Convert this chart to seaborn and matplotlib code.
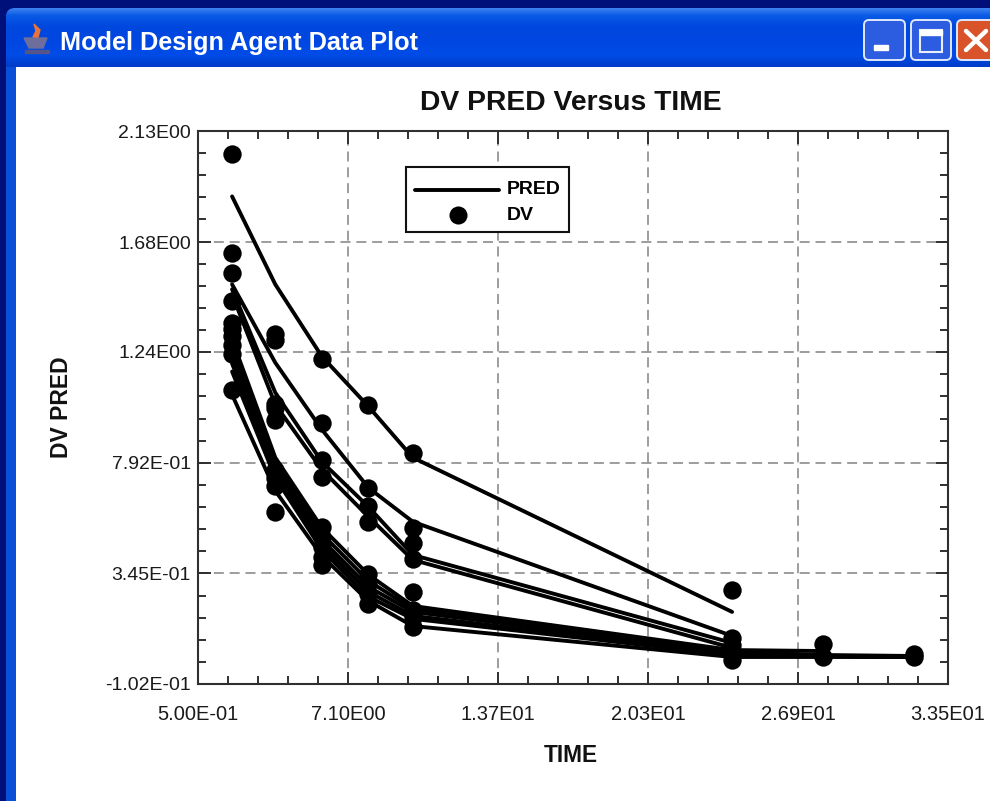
import numpy as np
import pandas as pd
import matplotlib
matplotlib.use('Agg')
import matplotlib.pyplot as plt
import seaborn as sns
from matplotlib.lines import Line2D
from matplotlib.patches import FancyBboxPatch, Polygon, Rectangle
from matplotlib.ticker import FixedLocator, FixedFormatter

# PRED curves, one list per subject (time, value)
time_short = [2, 3.9, 5.95, 8, 9.95, 24]
pred_a = [1.866, 1.511, 1.220, 1.018, 0.812, 0.189]
pred_b = [1.511, 1.195, 0.925, 0.690, 0.553, 0.092]
pred_c = [1.491, 1.074, 0.795, 0.613, 0.419, 0.064]
pred_d = [1.470, 1.026, 0.763, 0.573, 0.399, 0.044]

time_28 = [2, 3.9, 5.95, 8, 9.95, 24, 28]
pred_e = [1.288, 0.812, 0.529, 0.339, 0.213, 0.035, 0.031]
pred_f = [1.256, 0.791, 0.504, 0.314, 0.201, 0.031, 0.011]

time_long = [2, 3.9, 5.95, 8, 9.95, 24, 28, 32]
pred_g = [1.224, 0.771, 0.480, 0.290, 0.189, 0.027, 0.015, 0.011]
pred_h = [1.191, 0.751, 0.460, 0.270, 0.173, 0.019, 0.011, 0.007]
pred_i = [1.159, 0.731, 0.440, 0.250, 0.161, 0.015, 0.011, 0.007]
pred_j = [1.066, 0.678, 0.415, 0.233, 0.132, 0.007, 0.007, 0.007]

# DV observations
dv_time = [2] * 10 + [3.9] * 9 + [5.95] * 9 + [8] * 8 + [9.95] * 8 + [24] * 5 + [28] * 2 + [32] * 2
dv_value = [2.036, 1.636, 1.555, 1.442, 1.357, 1.329, 1.301, 1.268, 1.228, 1.086,
            1.309, 1.288, 1.030, 1.014, 0.965, 0.763, 0.731, 0.698, 0.593,
            1.208, 0.953, 0.803, 0.735, 0.533, 0.492, 0.452, 0.411, 0.379,
            1.026, 0.690, 0.617, 0.553, 0.343, 0.302, 0.262, 0.221,
            0.832, 0.529, 0.468, 0.403, 0.270, 0.197, 0.169, 0.128,
            0.278, 0.084, 0.056, 0.027, -0.005,
            0.060, 0.007,
            0.019, 0.007]

x_ticks = [0.5, 7.1, 13.7, 20.3, 26.9, 33.5]
x_labels = ['5.00E-01', '7.10E00', '1.37E01', '2.03E01', '2.69E01', '3.35E01']
y_ticks = [-0.102, 0.345, 0.792, 1.24, 1.68, 2.13]
y_labels = ['-1.02E-01', '3.45E-01', '7.92E-01', '1.24E00', '1.68E00', '2.13E00']

curves = {'a': (time_short, pred_a), 'b': (time_short, pred_b), 'c': (time_short, pred_c),
          'd': (time_short, pred_d), 'e': (time_28, pred_e), 'f': (time_28, pred_f),
          'g': (time_long, pred_g), 'h': (time_long, pred_h), 'i': (time_long, pred_i),
          'j': (time_long, pred_j)}
rows = []
for name, (tt, vv) in curves.items():
    rows += [{'subject': name, 'TIME': t, 'PRED': v} for t, v in zip(tt, vv)]
pred_df = pd.DataFrame(rows)
dv_df = pd.DataFrame({'TIME': dv_time, 'DV': dv_value})

sns.set_theme(style='white')
plt.rcParams['font.family'] = ['Liberation Sans', 'DejaVu Sans']

W, H = 990, 801
fig = plt.figure(figsize=(W / 100, H / 100), dpi=100, facecolor='#00107a')

# window frame, drawn in pixel coordinates
bg = fig.add_axes([0, 0, 1, 1])
bg.axis('off')
bg.add_patch(Rectangle((6, 14), W, H, color='#0a4fd8', lw=0))
bar = np.array([0.0, 0.12, 0.3, 0.55, 0.8, 1.0])
bar_cols = np.array([[60, 130, 240], [10, 90, 230], [0, 72, 222], [0, 70, 225], [0, 76, 232], [0, 60, 200]]) / 255
yy = np.linspace(0, 1, 60)
grad = np.stack([np.interp(yy, bar, bar_cols[:, i]) for i in range(3)], axis=1)[:, None, :]
im = bg.imshow(grad, extent=(6, W, 67, 8), aspect='auto', zorder=2)
bg.set_xlim(0, W)
bg.set_ylim(H, 0)
im.set_clip_path(FancyBboxPatch((6, 8), W + 20, 80, boxstyle='round,pad=0,rounding_size=9', transform=bg.transData))
bg.add_patch(Rectangle((16, 67), W, H, color='white', lw=0, zorder=3))
bg.text(60, 43, 'Model Design Agent Data Plot', color='white', fontsize=18.2, fontweight='bold',
        va='center', ha='left', zorder=4)

# java cup icon
bg.add_patch(Polygon([(24, 38), (47, 38), (43, 48), (29, 48)], color='#6e6e9c', zorder=4))
bg.add_patch(Rectangle((25, 50), 24, 3, color='#55558a', zorder=4))
bg.add_patch(Polygon([(34, 24), (40, 30), (38, 37), (33, 37), (36, 31)], color='#e8743a', zorder=4))

# title bar buttons
for x0, x1, col in [(864, 905, '#2c5ce0'), (911, 951, '#2c5ce0'), (957, 1000, '#d8532a')]:
    bg.add_patch(FancyBboxPatch((x0, 20), x1 - x0, 40, boxstyle='round,pad=0,rounding_size=5',
                                fc=col, ec='#dfe8fb', lw=1.4, zorder=4))
bg.add_patch(Rectangle((874, 45), 14, 5, color='white', zorder=5))
bg.add_patch(Rectangle((920, 30), 22, 22, fc='none', ec='#e8eefc', lw=1.5, zorder=5))
bg.add_patch(Rectangle((920, 30), 22, 5, color='white', zorder=5))
bg.plot([966, 986], [31, 50], color='white', lw=3.2, zorder=5)
bg.plot([966, 986], [50, 31], color='white', lw=3.2, zorder=5)

# plot area
ax = fig.add_axes([198 / W, 1 - 684 / H, 750 / W, 553 / H])
ax.set_facecolor('white')
sns.lineplot(data=pred_df, x='TIME', y='PRED', units='subject', estimator=None,
             color='black', linewidth=2.8, ax=ax, legend=False, zorder=3)
sns.scatterplot(data=dv_df, x='TIME', y='DV', color='black', s=175, linewidth=0, ax=ax,
                legend=False, zorder=4, clip_on=False)

ax.set_xlim(0.5, 33.5)
ax.set_ylim(-0.102, 2.13)
ax.xaxis.set_major_locator(FixedLocator(x_ticks))
ax.xaxis.set_major_formatter(FixedFormatter(x_labels))
ax.yaxis.set_major_locator(FixedLocator(y_ticks))
ax.yaxis.set_major_formatter(FixedFormatter(y_labels))
ax.xaxis.set_minor_locator(FixedLocator(np.linspace(0.5, 33.5, 26)))
ax.yaxis.set_minor_locator(FixedLocator(np.linspace(-0.102, 2.13, 26)))
ax.tick_params(axis='both', which='major', direction='in', length=9, width=1.4, color='#303030',
               top=True, right=True, bottom=True, left=True, labelcolor='#1a1a1a')
ax.tick_params(axis='both', which='minor', direction='in', length=6, width=1.4, color='#303030',
               top=True, right=True, bottom=True, left=True)
ax.tick_params(axis='x', which='major', labelsize=14.5, pad=15)
ax.tick_params(axis='y', which='major', labelsize=14, pad=5)
ax.grid(True, which='major', color='#8c8c8c', linestyle=(0, (6, 3.5)), linewidth=1.2)
ax.set_axisbelow(True)
for s in ax.spines.values():
    s.set_visible(True)
    s.set_color('#303030')
    s.set_linewidth(1.5)

ax.set_title('DV PRED Versus TIME', fontsize=20.3, fontweight='bold', color='#111111', pad=15, x=0.497)
ax.set_xlabel('TIME', fontsize=16.3, fontweight='bold', color='#111111', va='center')
ax.set_ylabel('DV PRED', fontsize=16.5, fontweight='bold', color='#111111', va='center')
ax.xaxis.set_label_coords((571 - 198) / 750, -(755 - 684) / 553)
ax.yaxis.set_label_coords(-(198 - 61) / 750, (684 - 407) / 553)

# legend box, placed to the pixel like the original
tr = bg.transData
ax.add_patch(Rectangle((406, 167), 163, 65, fc='white', ec='#111111', lw=1.5, transform=tr, zorder=6))
ax.add_line(Line2D([415, 499], [190, 190], color='black', lw=2.8, transform=tr, zorder=7))
ax.add_line(Line2D([458], [215], color='black', lw=0, marker='o', markersize=13, mew=0, transform=tr, zorder=7))
ax.text(507, 190, 'PRED', fontsize=14, fontweight='bold', color='black', va='center', transform=tr, zorder=7)
ax.text(507, 215, 'DV', fontsize=14, fontweight='bold', color='black', va='center', transform=tr, zorder=7)

fig.savefig('out.png', dpi=100, facecolor=fig.get_facecolor())
